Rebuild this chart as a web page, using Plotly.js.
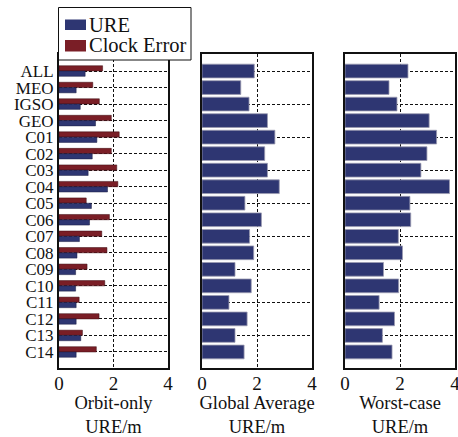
<!DOCTYPE html>
<html>
<head>
<meta charset="utf-8">
<script src="https://cdn.plot.ly/plotly-3.0.1.min.js"></script>
<style>html,body{margin:0;padding:0;background:#fff;}#chart{width:458px;height:437px;}</style>
</head>
<body>
<div id="chart"></div>
<script>
var categories = ["ALL","MEO","IGSO","GEO","C01","C02","C03","C04","C05","C06","C07","C08","C09","C10","C11","C12","C13","C14"];
var orbitURE   = [0.96,0.63,0.78,1.34,1.39,1.22,1.07,1.78,1.19,1.12,0.75,0.66,0.61,0.61,0.63,0.63,0.80,0.63];
var clockError = [1.60,1.24,1.48,1.92,2.21,1.92,2.12,2.16,1.00,1.85,1.57,1.76,1.03,1.68,0.74,1.47,0.86,1.37];
var globalURE  = [1.90,1.41,1.71,2.38,2.65,2.28,2.38,2.81,1.56,2.16,1.73,1.88,1.20,1.79,0.98,1.64,1.20,1.53];
var worstURE   = [2.29,1.60,1.89,3.06,3.33,2.98,2.76,3.80,2.36,2.39,1.94,2.09,1.40,1.95,1.24,1.80,1.36,1.71];
var xTicks = [0, 2, 4];
var xTitles = ["Orbit-only<br>URE/m", "Global Average<br>URE/m", "Worst-case<br>URE/m"];
var legendNames = ["URE", "Clock Error"];

var BLUE = "#2e3672", RED = "#7a1e26";
var FONT = "Liberation Serif";
var everyOther = categories.filter(function(c, i){ return i % 2 === 0; });

var W = 458, T = 54, B = 69, H = 437;
var plotH = H - T - B;
function px(x){ return x / W; }
function py(y){ return (H - B - y) / plotH; }

var traces = [
  {type:"bar", orientation:"h", name:legendNames[1], y:categories, x:clockError,
   xaxis:"x", yaxis:"y", offset:-0.32, width:0.32, showlegend:false,
   marker:{color:RED, line:{color:"#3a0a10", width:0.5}}},
  {type:"bar", orientation:"h", name:legendNames[0], y:categories, x:orbitURE,
   xaxis:"x", yaxis:"y", offset:0, width:0.32, showlegend:false,
   marker:{color:BLUE, line:{color:"#1a1d40", width:0.5}}},
  {type:"bar", orientation:"h", name:legendNames[0], y:categories, x:globalURE,
   xaxis:"x2", yaxis:"y2", width:0.83, showlegend:false,
   marker:{color:BLUE, line:{color:"#9a9ab0", width:0.8}}},
  {type:"bar", orientation:"h", name:legendNames[0], y:categories, x:worstURE,
   xaxis:"x3", yaxis:"y3", width:0.83, showlegend:false,
   marker:{color:BLUE, line:{color:"#9a9ab0", width:0.8}}}
];

function xa(domain, title){
  return {domain:domain, range:[0,4], tickmode:"array", tickvals:xTicks, ticktext:xTicks.map(String),
    showgrid:true, gridcolor:"#111", griddash:"3px,2px", gridwidth:1, zeroline:false,
    showline:true, mirror:true, linecolor:"#111", linewidth:2, ticks:"", ticklabeloverflow:"allow",
    ticklabelstandoff:-3,
    tickfont:{family:FONT, size:19, color:"#111"},
    title:{text:title, font:{family:FONT, size:18.5, color:"#111"}, standoff:7}, automargin:false, fixedrange:true};
}
function ya(anchor, showLabels, vals){
  return {anchor:anchor, type:"category", categoryorder:"array", categoryarray:categories,
    range:[17.97,-1.03], tickmode:"array", tickvals:vals, ticktext:vals,
    showticklabels:showLabels, showgrid:true, gridcolor:"#111", griddash:"3px,2px", gridwidth:1,
    zeroline:false, showline:true, mirror:true, linecolor:"#111", linewidth:2, ticks:"",
    tickfont:{family:FONT, size:17, color:"#111"}, automargin:false, fixedrange:true};
}

var shapes = [
  {type:"rect", xref:"paper", yref:"paper", x0:px(58.5), x1:px(191), y0:py(60), y1:py(7.5),
   fillcolor:"#fff", line:{color:"#111", width:1}, layer:"above"},
  {type:"rect", xref:"paper", yref:"paper", x0:px(65), x1:px(86), y0:py(30), y1:py(19.5),
   fillcolor:BLUE, line:{width:0}, layer:"above"},
  {type:"rect", xref:"paper", yref:"paper", x0:px(65), x1:px(86), y0:py(51.5), y1:py(40),
   fillcolor:RED, line:{width:0}, layer:"above"}
];
var annotations = [
  {xref:"paper", yref:"paper", x:px(86.5), y:py(24.5), xanchor:"left", yanchor:"middle",
   text:legendNames[0], showarrow:false, font:{family:FONT, size:20.5, color:"#111"}},
  {xref:"paper", yref:"paper", x:px(86.5), y:py(45.5), xanchor:"left", yanchor:"middle",
   text:legendNames[1], showarrow:false, font:{family:FONT, size:20.5, color:"#111"}}
];

var layout = {
  width:W, height:H,
  margin:{l:0, r:0, t:T, b:B, pad:0},
  paper_bgcolor:"#fff", plot_bgcolor:"#fff",
  showlegend:false,
  shapes:shapes, annotations:annotations,
  xaxis:xa([59/W, 168/W], xTitles[0]),
  xaxis2:xa([202/W, 312/W], xTitles[1]),
  xaxis3:xa([345/W, 455/W], xTitles[2]),
  yaxis:ya("x", true, categories),
  yaxis2:ya("x2", false, everyOther),
  yaxis3:ya("x3", false, everyOther)
};

Plotly.newPlot("chart", traces, layout, {displayModeBar:false, staticPlot:true});
</script>
</body>
</html>
